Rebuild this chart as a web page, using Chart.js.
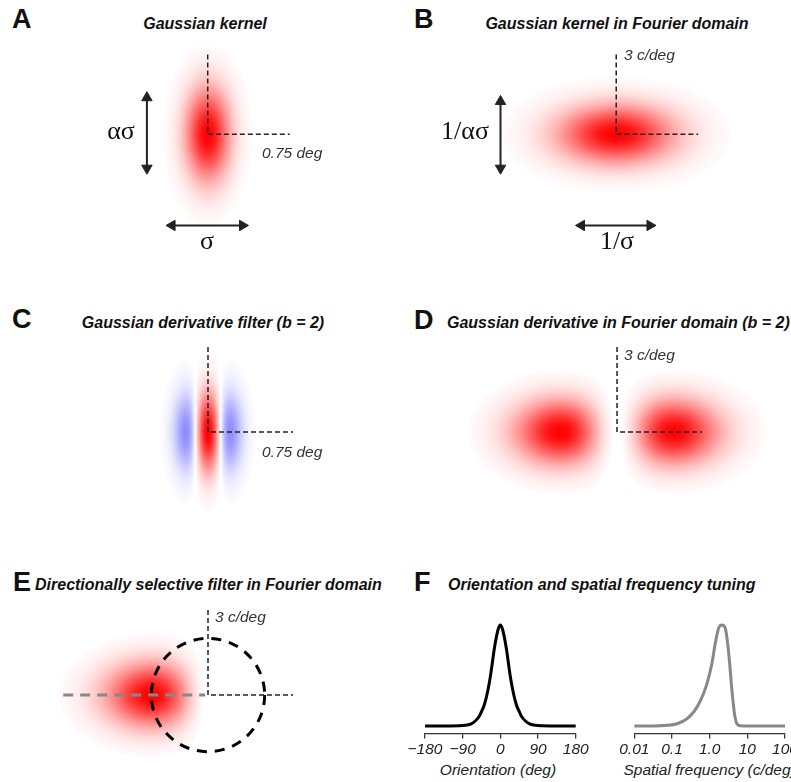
<!DOCTYPE html>
<html lang="en">
<head>
<meta charset="UTF-8">
<title>Gaussian derivative filters</title>
<style>
  html, body { margin: 0; padding: 0; background: #fff; }
  body { width: 791px; height: 782px; overflow: hidden; position: relative; font-family: "Liberation Sans", Arial, sans-serif; }
  canvas { position: absolute; }
  .lbl { position: absolute; white-space: nowrap; line-height: 1; color: #111; z-index: 2; }
  .letter { font-weight: bold; font-size: 27px; }
  .title { font-weight: bold; font-style: italic; font-size: 16px; }
  .note { font-style: italic; font-size: 15.5px; color: #333; }
  .axis { font-style: italic; font-size: 15.5px; color: #222; }
  .greek { font-family: "Liberation Serif", "Times New Roman", serif; font-size: 26px; }
</style>
</head>
<body>
<canvas id="pA" width="400" height="230" style="left:0;top:40px"></canvas>
<canvas id="pB" width="391" height="230" style="left:400px;top:40px"></canvas>
<canvas id="pC" width="400" height="190" style="left:0;top:340px"></canvas>
<canvas id="pD" width="391" height="190" style="left:400px;top:340px"></canvas>
<canvas id="pE" width="400" height="182" style="left:0;top:600px"></canvas>
<canvas id="fOri" width="200" height="146" style="left:400px;top:615px"></canvas>
<canvas id="fSf" width="200" height="146" style="left:610px;top:615px"></canvas>

<script src="https://cdn.jsdelivr.net/npm/chart.js"></script>
<script>
// kernels for panels A..E (A, C in deg; B, D, E in c/deg)
const kernelDomain = ['space', 'freq', 'space', 'freq', 'freq'];
const kernelOrder  = [0, 0, 2, 2, 2];
const kernelSigmaX = [0.14, 1.45, 0.113, 1.42, 1.42];
const kernelSigmaY = [0.30, 0.75, 0.24, 0.78, 0.78];
const kernelSide   = [0, 0, 0, 0, -1];
const kernelCutoff = [0.015, 0.015, 0.012, 0.02, 0.02];
const markerLength = [0.75, 3, 0.75, 3, 3];

// double arrows (arrowhead centres)
const arrowAV = [[-0.556, 0.344], [-0.556, -0.318]];
const arrowAH = [[-0.326, -0.856], [0.318, -0.856]];
const arrowBV = [[-4.236, 1.235], [-4.236, -1.271]];
const arrowBH = [[-1.271, -3.424], [1.235, -3.424]];

// panel E: grey axis guide and ring radius (c/deg)
const guideE = [[-5.11, 0], [-0.1, 0]];
const ringE = 2;

// panel F: orientation tuning
const oriX = [-180, -150, -120, -100, -90, -80, -70, -60, -50, -45, -40, -35, -30, -25, -20, -15, -10, -5, 0,
              5, 10, 15, 20, 25, 30, 35, 40, 45, 50, 60, 70, 80, 90, 100, 120, 150, 180];
const oriY = [0, 0, 0.001, 0.003, 0.005, 0.01, 0.022, 0.05, 0.10, 0.145, 0.19, 0.26, 0.35, 0.46, 0.60, 0.75, 0.87, 0.96, 1,
              0.96, 0.87, 0.75, 0.60, 0.46, 0.35, 0.26, 0.19, 0.145, 0.10, 0.05, 0.022, 0.01, 0.005, 0.003, 0.001, 0, 0];
const oriTicks = [-180, -90, 0, 90, 180];
const oriTickLabels = ['\u2212180', '\u221290', '0', '90', '180'];

// panel F: spatial frequency tuning
const sfX = [0.01, 0.03, 0.073, 0.136, 0.25, 0.376, 0.565, 0.85, 1.15, 1.41, 1.73, 2.1,
             2.6, 3.0, 3.4, 3.76, 4.16, 4.7, 5.3, 6.5, 10, 100];
const sfY = [0, 0.001, 0.007, 0.023, 0.073, 0.139, 0.248, 0.42, 0.62, 0.818, 0.967, 1.0,
             0.967, 0.82, 0.62, 0.42, 0.25, 0.09, 0.023, 0.003, 0, 0];
const sfTicks = [0.01, 0.1, 1, 10, 100];
const sfTickLabels = ['0.01', '0.1', '1.0', '10', '100'];

// text: [text, x, baseline, class, align]
const labels = [
  ['A', 12, 28.5, 'letter', 'left'],
  ['Gaussian kernel', 205, 29.3, 'title', 'center'],
  ['B', 414, 28.5, 'letter', 'left'],
  ['Gaussian kernel in Fourier domain', 617, 29.3, 'title', 'center'],
  ['C', 12, 328.5, 'letter', 'left'],
  ['Gaussian derivative filter (b = 2)', 203, 328.5, 'title', 'center'],
  ['D', 414, 329.5, 'letter', 'left'],
  ['Gaussian derivative in Fourier domain (b = 2)', 447, 328.5, 'title', 'left'],
  ['E', 13, 591.5, 'letter', 'left'],
  ['Directionally selective filter in Fourier domain', 35, 591, 'title', 'left'],
  ['F', 414, 591.5, 'letter', 'left'],
  ['Orientation and spatial frequency tuning', 448, 591, 'title', 'left'],
  ['0.75 deg', 262, 158.5, 'note', 'left'],
  ['0.75 deg', 262, 457.5, 'note', 'left'],
  ['3 c/deg', 624, 60, 'note', 'left'],
  ['3 c/deg', 624, 360, 'note', 'left'],
  ['3 c/deg', 215, 622, 'note', 'left'],
  ['\u03b1\u03c3', 121, 140, 'greek', 'center'],
  ['\u03c3', 207, 250, 'greek', 'center'],
  ['1/\u03b1\u03c3', 465, 140, 'greek', 'center'],
  ['1/\u03c3', 617, 250, 'greek', 'center'],
  ['Orientation (deg)', 498, 775, 'axis', 'center'],
  ['Spatial frequency (c/deg)', 709.6, 775, 'axis', 'center']
];

const SANS = '"Liberation Sans", Arial, sans-serif';

labels.forEach(([text, x, base, cls, align]) => {
  const el = document.createElement('div');
  el.className = 'lbl ' + cls;
  el.textContent = text;
  document.body.appendChild(el);
  const fs = parseFloat(getComputedStyle(el).fontSize);
  const k = cls === 'greek' ? 0.8375 : 0.8465;
  el.style.top = (base - k * fs) + 'px';
  el.style.left = x + 'px';
  if (align === 'center') el.style.transform = 'translateX(-50%)';
});

// value of a kernel at (fx, fy), peak normalised to 1
function kernelValue(k, fx, fy) {
  if (k.side < 0 && fx > 0) return 0;
  const u = fx / k.sx, v = fy / k.sy;
  const env = Math.exp(-(u * u + v * v) / 2);
  if (k.order === 0) return env;
  if (k.domain === 'space') return (1 - u * u) * env;
  return u * u * env * Math.E / 2;
}

// paints the kernel image under the datasets, red positive / blue negative
const kernelPlugin = {
  id: 'kernel',
  beforeDatasetsDraw(chart, args, k) {
    const { ctx, chartArea: a, scales: { x, y } } = chart;
    const w = Math.round(a.right - a.left), h = Math.round(a.bottom - a.top);
    const img = ctx.createImageData(w, h);
    for (let j = 0; j < h; j++) {
      const fy = y.getValueForPixel(a.top + j + 0.5);
      for (let i = 0; i < w; i++) {
        const fx = x.getValueForPixel(a.left + i + 0.5);
        const v = kernelValue(k, fx, fy);
        let r = 255, g = 255, b = 255;
        if (Math.abs(v) >= k.cutoff) {
          if (v > 0) { g = b = 255 * (1 - v); }
          else { r = g = 255 * (1 + v); }
        }
        const p = (j * w + i) * 4;
        img.data[p] = r; img.data[p + 1] = g; img.data[p + 2] = b; img.data[p + 3] = 255;
      }
    }
    ctx.putImageData(img, a.left, a.top);
  }
};

// dashed ring around the origin
const ringPlugin = {
  id: 'ring',
  afterDatasetsDraw(chart, args, opts) {
    if (!opts.radius) return;
    const { ctx, scales: { x, y } } = chart;
    const cx = x.getPixelForValue(0), cy = y.getPixelForValue(0);
    const r = x.getPixelForValue(opts.radius) - cx;
    ctx.save();
    ctx.strokeStyle = '#000';
    ctx.lineWidth = 3;
    ctx.setLineDash([10, 8]);
    ctx.beginPath();
    ctx.arc(cx, cy, r, 0, Math.PI * 2);
    ctx.stroke();
    ctx.restore();
  }
};

const pts = arr => arr.map(([x, y]) => ({ x, y }));

function dashed(arr, color, width, dash) {
  return { data: pts(arr), showLine: true, borderColor: color, borderWidth: width, borderDash: dash,
           pointRadius: 0, fill: false, clip: false };
}

function arrow(arr, rot) {
  return { data: pts(arr), showLine: true, borderColor: '#222', borderWidth: 2,
           pointRadius: 6, pointStyle: 'triangle', pointRotation: rot,
           pointBackgroundColor: '#222', pointBorderColor: '#222', pointBorderWidth: 1, clip: false };
}

function marker(i) {
  const L = markerLength[i];
  return dashed([[0, L], [0, 0], [L, 0]], '#222', 1.5, [5, 3]);
}

// blob panel whose origin sits at canvas pixel (cx, cy), ppu pixels per unit
function kernelPanel(id, i, cx, cy, ppu, extra, ring) {
  const cv = document.getElementById(id);
  const w = cv.width, h = cv.height;
  new Chart(cv, {
    type: 'scatter',
    data: { datasets: [marker(i)].concat(extra) },
    options: {
      responsive: false, animation: false, devicePixelRatio: 1, events: [],
      layout: { padding: 0 },
      scales: {
        x: { type: 'linear', display: false, min: -cx / ppu, max: (w - cx) / ppu },
        y: { type: 'linear', display: false, min: -(h - cy) / ppu, max: cy / ppu }
      },
      plugins: {
        legend: { display: false }, tooltip: { enabled: false },
        kernel: { domain: kernelDomain[i], order: kernelOrder[i], sx: kernelSigmaX[i], sy: kernelSigmaY[i],
                  side: kernelSide[i], cutoff: kernelCutoff[i] },
        ring: { radius: ring || 0 }
      }
    },
    plugins: [kernelPlugin, ringPlugin]
  });
}

const PPD = 85 / 0.75;  // px per deg
const PPC = 85 / 3;     // px per c/deg

kernelPanel('pA', 0, 208, 93, PPD, [arrow(arrowAV, [0, 180]), arrow(arrowAH, [270, 90])]);
kernelPanel('pB', 1, 217, 93, PPC, [arrow(arrowBV, [0, 180]), arrow(arrowBH, [270, 90])]);
kernelPanel('pC', 2, 208, 92, PPD, []);
kernelPanel('pD', 3, 217, 92, PPC, []);
kernelPanel('pE', 4, 208, 95, PPC, [dashed(guideE, '#888', 3, [10, 7])], ringE);

// tuning curves
const tickFont = { family: SANS, size: 15.5, style: 'italic' };

function tuningChart(id, xType, xs, ys, color, ticks, tickLabels, min, max, pad) {
  new Chart(document.getElementById(id), {
    type: 'scatter',
    data: { datasets: [{
      data: xs.map((x, i) => ({ x, y: ys[i] })), showLine: true, borderColor: color, borderWidth: 3,
      pointRadius: 0, cubicInterpolationMode: 'monotone', fill: false, clip: false
    }] },
    options: {
      responsive: false, animation: false, devicePixelRatio: 1, events: [],
      layout: { padding: pad },
      scales: {
        x: {
          type: xType, min, max,
          afterBuildTicks: s => { s.ticks = ticks.map(v => ({ value: v })); },
          ticks: { callback: (v, i) => tickLabels[i], font: tickFont, color: '#222', padding: 2,
                   maxRotation: 0, autoSkip: false },
          grid: { display: true, drawOnChartArea: false, drawTicks: true, tickLength: 5, color: '#333', lineWidth: 1.3 },
          border: { display: true, color: '#333', width: 1.3 }
        },
        y: { display: false, min: -0.0725, max: 1 }
      },
      plugins: { legend: { display: false }, tooltip: { enabled: false } }
    }
  });
}

tuningChart('fOri', 'linear', oriX, oriY, '#000', oriTicks, oriTickLabels, -180, 180,
            { left: 25, right: 24.3, top: 10, bottom: 0 });
tuningChart('fSf', 'logarithmic', sfX, sfY, '#888', sfTicks, sfTickLabels, 0.01, 100,
            { left: 24.3, right: 25, top: 10, bottom: 0 });
</script>
</body>
</html>
